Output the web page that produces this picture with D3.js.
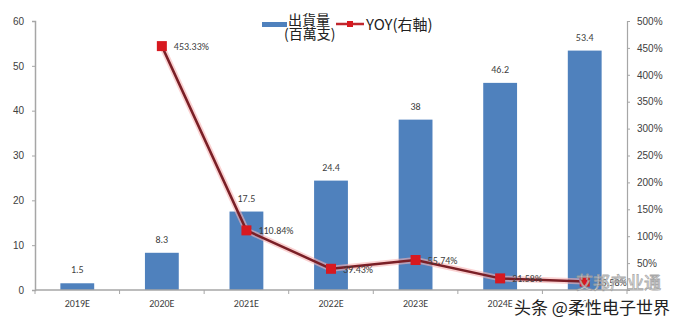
<!DOCTYPE html>
<html>
<head>
<meta charset="utf-8">
<script src="https://cdn.jsdelivr.net/npm/d3@7"></script>
<style>
  body { margin: 0; background: #fff; }
  svg { display: block; font-family: Calibri, "Liberation Sans", "Noto Sans", sans-serif; }
</style>
</head>
<body>
<div class="data"></div>
<script>
// years, shipments (百萬支) and year-over-year growth
const years = ['2019E', '2020E', '2021E', '2022E', '2023E', '2024E', '2025E']
const shipments = [1.5, 8.3, 17.5, 24.4, 38, 46.2, 53.4]
const yoy = [null, 453.33, 110.84, 39.43, 55.74, 21.58, 15.58]
const leftTicks = [0, 10, 20, 30, 40, 50, 60]
const rightTicks = [50, 100, 150, 200, 250, 300, 350, 400, 450, 500]

const w = 680
const h = 322
const m = { top: 21, right: 53, bottom: 32, left: 35 }

const svg = d3.select('.data')
  .append('svg')
  .attr('width', w)
  .attr('height', h)

const x = d3.scaleBand()
  .domain(years)
  .range([m.left, w - m.right])
  .paddingInner(0.6)
  .paddingOuter(0.3)

const yL = d3.scaleLinear().domain([0, 60]).range([h - m.bottom, m.top])
const yR = d3.scaleLinear().domain([0, 500]).range([h - m.bottom, m.top])

const axisCol = '#a6a6a6'
const textCol = '#404040'

// bars
svg.selectAll('rect.bar')
  .data(shipments)
  .enter()
  .append('rect')
  .attr('class', 'bar')
  .attr('x', (d, i) => x(years[i]))
  .attr('y', d => yL(d))
  .attr('width', x.bandwidth())
  .attr('height', d => yL(0) - yL(d))
  .attr('fill', '#4f81bd')

svg.selectAll('text.barlab')
  .data(shipments)
  .enter()
  .append('text')
  .attr('class', 'barlab')
  .text(d => d)
  .attr('x', (d, i) => x(years[i]) + x.bandwidth() / 2)
  .attr('y', d => yL(d) - 10)
  .attr('text-anchor', 'middle')
  .attr('font-size', 10)
  .attr('fill', textCol)

// left axis
const gl = svg.append('g')
  .attr('transform', `translate(${m.left},0)`)
  .call(d3.axisLeft(yL).tickValues(leftTicks).tickSize(3).tickPadding(8))
gl.select('.domain').attr('stroke', axisCol).attr('stroke-width', 1.5)
gl.selectAll('.tick line').attr('stroke', axisCol)
gl.selectAll('.tick text').attr('font-size', 10).attr('fill', textCol)
  .style('font-family', 'inherit')

// right axis
const gr = svg.append('g')
  .attr('transform', `translate(${w - m.right},0)`)
  .call(d3.axisRight(yR).tickValues(rightTicks).tickSize(3).tickPadding(7)
    .tickFormat(d => d + '%'))
gr.select('.domain').attr('stroke', axisCol).attr('stroke-width', 1.2)
gr.selectAll('.tick line').attr('stroke', axisCol)
gr.selectAll('.tick text').attr('font-size', 10).attr('fill', textCol)
  .style('font-family', 'inherit')

// bottom axis, ticks between categories
const xBase = yL(0)
svg.append('line')
  .attr('x1', m.left).attr('x2', w - m.right)
  .attr('y1', xBase).attr('y2', xBase)
  .attr('stroke', axisCol).attr('stroke-width', 1.5)

svg.selectAll('line.xtick')
  .data(d3.range(years.length + 1))
  .enter()
  .append('line')
  .attr('class', 'xtick')
  .attr('x1', i => m.left + i * (w - m.right - m.left) / years.length)
  .attr('x2', i => m.left + i * (w - m.right - m.left) / years.length)
  .attr('y1', xBase).attr('y2', xBase + 4)
  .attr('stroke', axisCol)

svg.selectAll('text.xlab')
  .data(years)
  .enter()
  .append('text')
  .attr('class', 'xlab')
  .text(d => d)
  .attr('x', d => x(d) + x.bandwidth() / 2)
  .attr('y', xBase + 17)
  .attr('text-anchor', 'middle')
  .attr('font-size', 10)
  .attr('fill', textCol)

// YOY line
const pts = yoy.map((v, i) => ({ v, year: years[i] })).filter(d => d.v !== null)
const line = d3.line()
  .x(d => x(d.year) + x.bandwidth() / 2)
  .y(d => yR(d.v))

svg.append('path')
  .datum(pts)
  .attr('d', line)
  .attr('fill', 'none')
  .attr('stroke', '#f6b3b3')
  .attr('stroke-width', 6)
  .attr('stroke-opacity', 0.6)
  .attr('stroke-linejoin', 'round')

svg.append('path')
  .datum(pts)
  .attr('d', line)
  .attr('fill', 'none')
  .attr('stroke', '#7a1f26')
  .attr('stroke-width', 2.5)
  .attr('stroke-linejoin', 'round')

svg.selectAll('rect.mk')
  .data(pts)
  .enter()
  .append('rect')
  .attr('class', 'mk')
  .attr('x', d => x(d.year) + x.bandwidth() / 2 - 5)
  .attr('y', d => yR(d.v) - 5)
  .attr('width', 10)
  .attr('height', 10)
  .attr('fill', '#d71920')

svg.selectAll('text.yoylab')
  .data(pts)
  .enter()
  .append('text')
  .attr('class', 'yoylab')
  .text(d => d.v.toFixed(2) + '%')
  .attr('x', d => x(d.year) + x.bandwidth() / 2 + 12)
  .attr('y', d => yR(d.v) + 4)
  .attr('font-size', 10)
  .attr('fill', textCol)

// legend
const lg = svg.append('g')
lg.append('rect')
  .attr('x', 262).attr('y', 22).attr('width', 25).attr('height', 5)
  .attr('fill', '#4f81bd')
lg.append('text').text('出貨量')
  .attr('x', 288).attr('y', 25)
  .attr('font-size', 14).attr('fill', '#222')
  .style('font-family', '"Noto Sans CJK TC", sans-serif')
lg.append('text').text('(百萬支)')
  .attr('x', 284).attr('y', 39)
  .attr('font-size', 14).attr('fill', '#222')
  .style('font-family', '"Noto Sans CJK TC", sans-serif')
lg.append('line')
  .attr('x1', 336).attr('x2', 364).attr('y1', 24).attr('y2', 24)
  .attr('stroke', '#c0272d').attr('stroke-width', 2.5)
lg.append('rect')
  .attr('x', 347).attr('y', 21).attr('width', 6).attr('height', 6)
  .attr('fill', '#d71920')
lg.append('text').text('YOY(右軸)')
  .attr('x', 366).attr('y', 30)
  .attr('font-size', 15).attr('fill', '#222')
  .style('font-family', '"Noto Sans CJK TC", sans-serif')

// watermark
svg.append('text').text('艾邦产业通')
  .attr('x', 576).attr('y', 289)
  .attr('font-size', 17)
  .attr('fill', '#fff').attr('stroke', '#9a9a9a').attr('stroke-width', 0.8)
  .attr('opacity', 0.85)
  .style('font-family', '"Noto Sans CJK SC", sans-serif')
svg.append('text').text('头条 @柔性电子世界')
  .attr('x', 514).attr('y', 314)
  .attr('font-size', 17)
  .attr('fill', '#222')
  .attr('stroke', '#fff').attr('stroke-width', 3)
  .attr('paint-order', 'stroke')
  .style('font-family', '"Noto Sans CJK SC", sans-serif')
</script>
</body>
</html>
